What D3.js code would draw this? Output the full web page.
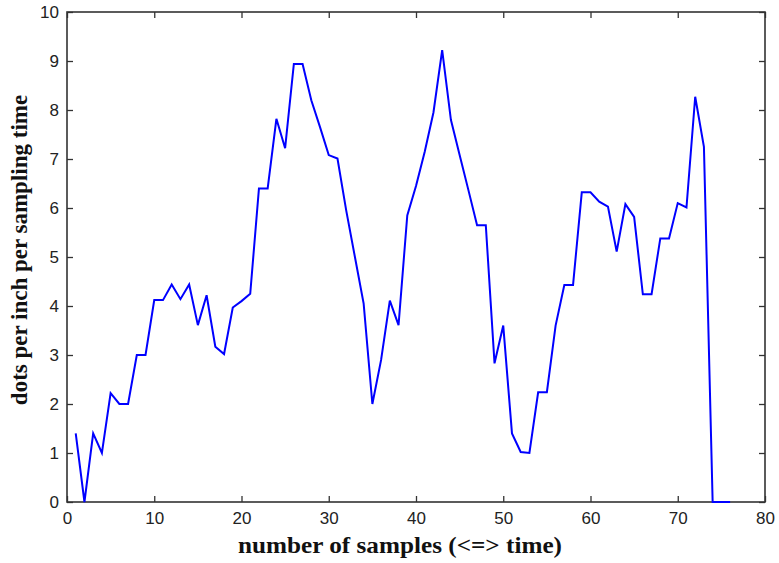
<!DOCTYPE html>
<html>
<head>
<meta charset="utf-8">
<script src="https://cdn.jsdelivr.net/npm/d3@7"></script>
<style>
  html, body { margin: 0; padding: 0; background: #fff; }
  svg { display: block; }
</style>
</head>
<body>
<svg id="chart" width="779" height="563"></svg>
<script>
// ---- data ----
const samples = d3.range(1, 77); // 1..76
const dpi = [
  1.4, 0, 1.4, 1.0, 2.22, 2.0, 2.0, 3.0, 3.0, 4.12,
  4.12, 4.44, 4.14, 4.44, 3.61, 4.22, 3.17, 3.02, 3.97, 4.1,
  4.25, 6.4, 6.4, 7.82, 7.22, 8.94, 8.94, 8.2, 7.65, 7.08,
  7.01, 5.95, 5.0, 4.05, 2.0, 2.9, 4.11, 3.61, 5.85, 6.45,
  7.15, 7.95, 9.22, 7.8, 7.08, 6.37, 5.65, 5.65, 2.83, 3.6,
  1.4, 1.02, 1.0, 2.24, 2.24, 3.6, 4.43, 4.43, 6.32, 6.32,
  6.13, 6.03, 5.11, 6.08, 5.82, 4.24, 4.24, 5.38, 5.38, 6.1,
  6.01, 8.27, 7.25, 0, 0, 0
];
const xTicks = [0, 10, 20, 30, 40, 50, 60, 70, 80];
const yTicks = [0, 1, 2, 3, 4, 5, 6, 7, 8, 9, 10];
const xLabel = "number of samples (<=> time)";
const yLabel = "dots per inch per sampling time";

// ---- layout ----
const mLeft = 67, mRight = 765, mTop = 12, mBottom = 502;
const svg = d3.select("#chart");

const x = d3.scaleLinear().domain([0, 80]).range([mLeft, mRight]);
const y = d3.scaleLinear().domain([0, 10]).range([mBottom, mTop]);

const axisColor = "#333";
const tickFont = "'Liberation Sans', Arial, sans-serif";

function styleAxis(g, showLabels) {
  g.select(".domain").remove();
  g.selectAll(".tick line").attr("stroke", axisColor).attr("stroke-width", 1.3);
  g.selectAll(".tick text")
    .attr("fill", "#222")
    .style("font-family", tickFont)
    .style("font-size", "17px");
  if (!showLabels) g.selectAll(".tick text").remove();
}

// bottom axis (ticks inward)
svg.append("g")
  .attr("transform", `translate(0,${mBottom})`)
  .call(d3.axisBottom(x).tickValues(xTicks).tickSize(-6).tickPadding(10).tickFormat(d3.format("d")))
  .call(g => styleAxis(g, true));

// top axis
svg.append("g")
  .attr("transform", `translate(0,${mTop})`)
  .call(d3.axisTop(x).tickValues(xTicks).tickSize(-6))
  .call(g => styleAxis(g, false));

// left axis
svg.append("g")
  .attr("transform", `translate(${mLeft},0)`)
  .call(d3.axisLeft(y).tickValues(yTicks).tickSize(-6).tickPadding(8).tickFormat(d3.format("d")))
  .call(g => styleAxis(g, true));

// right axis
svg.append("g")
  .attr("transform", `translate(${mRight},0)`)
  .call(d3.axisRight(y).tickValues(yTicks).tickSize(-6))
  .call(g => styleAxis(g, false));

// box
svg.append("rect")
  .attr("x", mLeft).attr("y", mTop)
  .attr("width", mRight - mLeft).attr("height", mBottom - mTop)
  .attr("fill", "none").attr("stroke", axisColor).attr("stroke-width", 1.6);

// line
const line = d3.line().x((d, i) => x(samples[i])).y(d => y(d));
svg.append("path")
  .datum(dpi)
  .attr("d", line)
  .attr("fill", "none")
  .attr("stroke", "#0000ff")
  .attr("stroke-width", 2)
  .attr("stroke-linejoin", "miter");

// axis labels
svg.append("text")
  .attr("x", 400)
  .attr("y", 553)
  .attr("text-anchor", "middle")
  .attr("textLength", 324)
  .attr("lengthAdjust", "spacingAndGlyphs")
  .style("font-family", "'Liberation Serif', 'Times New Roman', serif")
  .style("font-weight", "bold")
  .style("font-size", "23px")
  .attr("fill", "#111")
  .text(xLabel);

svg.append("text")
  .attr("transform", `translate(27,250) rotate(-90)`)
  .attr("text-anchor", "middle")
  .style("font-family", "'Liberation Serif', 'Times New Roman', serif")
  .style("font-weight", "bold")
  .style("font-size", "23px")
  .attr("fill", "#111")
  .text(yLabel);
</script>
</body>
</html>
